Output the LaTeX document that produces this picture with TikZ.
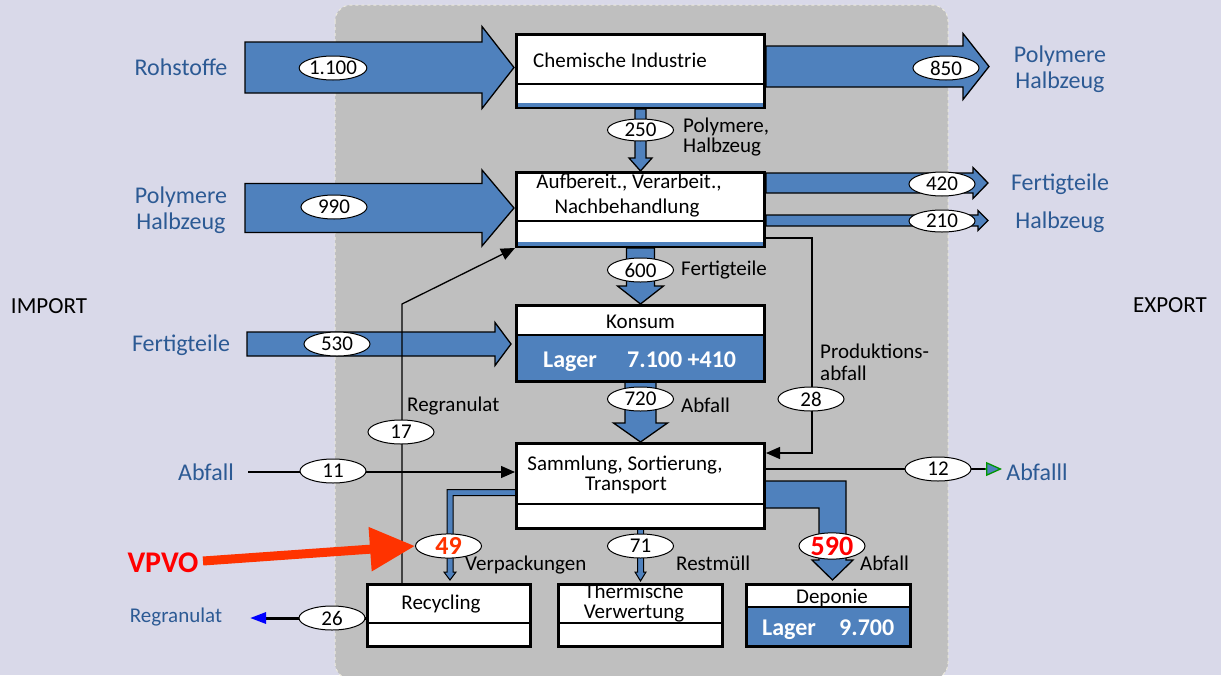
\documentclass[tikz,border=0pt]{standalone}
\usepackage{fontspec}
\setmainfont{Carlito}
\usetikzlibrary{shapes.geometric,arrows.meta,calc}
\definecolor{bg}{RGB}{217,217,233}
\definecolor{panel}{RGB}{191,191,191}
\definecolor{panelrim}{RGB}{236,234,222}
\definecolor{flow}{HTML}{4F81BD}
\definecolor{lblblue}{HTML}{2C5A94}
\definecolor{vpvocol}{HTML}{FF3300}
\definecolor{redcol}{HTML}{FF0000}
\definecolor{greencol}{RGB}{0,150,0}
\definecolor{tipblue}{RGB}{0,0,255}
\newcommand\hflow[6]{\draw[flowshape] (#1,{#3-#4}) -- (#6,{#3-#4}) -- (#6,{#3-#5}) -- (#2,#3) -- (#6,{#3+#5}) -- (#6,{#3+#4}) -- (#1,{#3+#4}) -- cycle;}
\newcommand\vflow[6]{\draw[flowshape] ({#1-#4},#2) -- ({#1-#4},#6) -- ({#1-#5},#6) -- (#1,#3) -- ({#1+#5},#6) -- ({#1+#4},#6) -- ({#1+#4},#2) -- cycle;}
\begin{document}
\begin{tikzpicture}[x=1pt,y=-1pt,
  flowshape/.style={fill=flow,draw=black,line width=1.3pt,line join=miter},
  box/.style={draw=black,line width=3pt,fill=white,inner sep=0pt},
  divider/.style={line width=1.3pt},
  num/.style={ellipse,draw=black,fill=white,line width=1pt,minimum width=66pt,minimum height=24pt,inner sep=0pt,font=\fontsize{21}{21}\selectfont},
  txt/.style={inner sep=0pt,anchor=base,font=\fontsize{21}{24}\selectfont},
  txtw/.style={txt,anchor=base west},
  lbl/.style={inner sep=0pt,font=\fontsize{24}{26}\selectfont,text=lblblue,align=center},
  lager/.style={inner sep=0pt,anchor=base west,text=white,font=\fontsize{24}{24}\selectfont\bfseries},
  conn/.style={line width=1.3pt},
  tip/.style={-{Triangle[length=14pt,width=12pt]}}
]
\useasboundingbox (0,0) rectangle (1221,675);
\fill[bg] (0,0) rectangle (1221,675);
\draw[fill=panel,draw=panelrim,dashed,line width=1pt,rounded corners=16pt] (335,5) rectangle (948,679);

% block flows
\hflow{245}{514}{67.5}{25.5}{41}{482}
\hflow{766}{989}{66.5}{20.5}{33}{963}
\hflow{245}{514}{208}{24.5}{38}{482}
\hflow{766}{988}{183}{10}{15.5}{973}
\hflow{766}{988}{220.5}{5.5}{10}{978}
\hflow{247}{511}{344}{12}{21.5}{495}
\vflow{640.5}{109}{171}{5.5}{11.5}{158}
\vflow{640.5}{248}{304}{14}{23}{286}
\vflow{640.5}{382}{442}{15.5}{27}{423}
% 590 L-shaped flow
\draw[flowshape] (766,481) -- (846,481) -- (846,560) -- (853,560) -- (832.5,580) -- (812,560) -- (819,560) -- (819,508) -- (766,508);
% 49 thin band
\draw[fill=flow,draw=black,line width=1pt] (516,489.5) -- (447,489.5) -- (447,572) -- (444,572) -- (450,580) -- (456,572) -- (453,572) -- (453,495.5) -- (516,495.5);
% 71 thin band
\draw[fill=flow,draw=black,line width=1pt] (637.5,529) -- (637.5,572) -- (635,572) -- (640.5,581) -- (646,572) -- (643.5,572) -- (643.5,529);

% boxes
\node[box,minimum width=248pt,minimum height=73pt] (chem) at (640.5,71) {};
\draw[divider] (518,84) -- (763,84);
\fill[flow] (518,103) rectangle (763,107);
\node[box,minimum width=248pt,minimum height=74pt] (auf) at (640.5,209.5) {};
\draw[divider] (518,221) -- (763,221);
\fill[flow] (518,241.5) rectangle (763,245.5);
\node[box,minimum width=248pt,minimum height=76pt] (kon) at (640.5,343.5) {};
\fill[flow] (518,335) rectangle (763,380);
\draw[divider] (518,335) -- (763,335);
\node[box,minimum width=248pt,minimum height=85pt] (sam) at (640.5,486) {};
\draw[divider] (518,504) -- (763,504);
\node[box,minimum width=163pt,minimum height=62pt] (rec) at (449,615.5) {};
\draw[divider] (369,623) -- (530,623);
\node[box,minimum width=164pt,minimum height=62pt] (the) at (640.5,615.5) {};
\draw[divider] (560,623) -- (721,623);
\node[box,minimum width=164pt,minimum height=62pt] (dep) at (828.5,615.5) {};
\fill[flow] (748,607) rectangle (909,645);
\draw[divider] (748,607) -- (909,607);

% box texts
\node[txtw] at (533,67) {Chemische Industrie};
\node[txt] at (629,188) {Aufbereit., Verarbeit.,};
\node[txt] at (627,213) {Nachbehandlung};
\node[txt] at (640.5,328) {Konsum};
\node[lager] at (543,367) {Lager};
\node[lager] at (627,367) {7.100 +410};
\node[txt] at (625,470) {Sammlung, Sortierung,};
\node[txt] at (626,490) {Transport};
\node[txt] at (441,609) {Recycling};
\node[txt] at (634,598) {Thermische};
\node[txt] at (634,618) {Verwertung};
\node[txt] at (832,603) {Deponie};
\node[lager] at (762,635) {Lager};
\node[lager] at (839,635) {9.700};

% thin connectors
\coordinate (rgA) at (402,583.5);
\coordinate (rgB) at (402,304);
\draw[conn,tip] (rgA) -- (rgB) -- (auf.south west);
\coordinate (paA) at (765,238);
\coordinate (paB) at (812,238);
\coordinate (paC) at (812,453);
\draw[conn,tip] (paA) -- (paB) -- (paC) -- (sam.east |- paC);
\coordinate (ain) at (248,472);
\draw[conn,tip] (ain) -- (sam.west |- ain);
\coordinate (aout) at (1002,469);
\draw[conn,-{Triangle[length=16pt,width=14pt,fill=flow]},draw=greencol] (sam.east |- aout) -- (aout);
\draw[conn,black] (sam.east |- aout) -- (985,469);
\coordinate (rgout) at (250,618);
\draw[line width=3pt,-{Triangle[length=16pt,width=11pt,color=tipblue]}] (rec.west |- rgout) -- (rgout);

% VPVO arrow
\node[inner sep=0pt,text=redcol,font=\fontsize{30}{30}\selectfont\bfseries] (vpvo) at (163,563) {VPVO};
\coordinate (vpA) at (203,561);

% number ellipses
\node[num] (n1100) at (333,68) {1.100};
\node[num] (n850) at (946,68) {850};
\node[num,minimum height=22pt] (n250) at (640.5,130) {250};
\node[num] (n990) at (334,207) {990};
\node[num] (n420) at (942,184) {420};
\node[num,minimum height=22pt] (n210) at (942,221) {210};
\node[num] (n600) at (640.5,270) {600};
\node[num] (n530) at (337,344) {530};
\node[num] (n720) at (640.5,399) {720};
\node[num] (n28) at (811,399) {28};
\node[num] (n17) at (401,432) {17};
\node[num] (n11) at (333,471) {11};
\node[num] (n12) at (938,469) {12};
\node[num,text=vpvocol,font=\fontsize{26}{26}\selectfont\bfseries] (n49) at (448.5,546) {49};
\node[num] (n71) at (640.5,546) {71};
\node[num,text=redcol,font=\fontsize{28}{28}\selectfont\bfseries] (n590) at (832,546) {590};
\node[num] (n26) at (332,618) {26};

\draw[vpvocol,line width=9pt,-{Triangle[length=45pt,width=42pt]}] (vpA) -- (n49.west);

% blue labels
\node[lbl] at (181,67) {Rohstoffe};
\node[lbl] at (181,210) {Polymere\\Halbzeug};
\node[lbl] at (181,345) {Fertigteile};
\node[lbl] (abfin) at (206,472) {Abfall};
\node[lbl,font=\fontsize{21}{21}\selectfont] at (176,617) {Regranulat};
\node[lbl] at (1060,69) {Polymere\\Halbzeug};
\node[lbl] at (1060,184) {Fertigteile};
\node[lbl] at (1060,222) {Halbzeug};
\node[lbl] at (1037,472) {Abfalll};
\node[inner sep=0pt,font=\fontsize{23}{23}\selectfont] at (49,306) {IMPORT};
\node[inner sep=0pt,font=\fontsize{23}{23}\selectfont] at (1170,305) {EXPORT};

% black labels
\node[txtw] at (683,132) {Polymere,};
\node[txtw] at (683,152) {Halbzeug};
\node[txtw] at (681,275) {Fertigteile};
\node[txtw] at (681,412) {Abfall};
\node[txtw] at (407,411) {Regranulat};
\node[txtw] at (820,358) {Produktions-};
\node[txtw] at (820,380) {abfall};
\node[txtw] at (465,570) {Verpackungen};
\node[txtw] at (676,570) {Restmüll};
\node[txtw] at (860,570) {Abfall};
\end{tikzpicture}
\end{document}
